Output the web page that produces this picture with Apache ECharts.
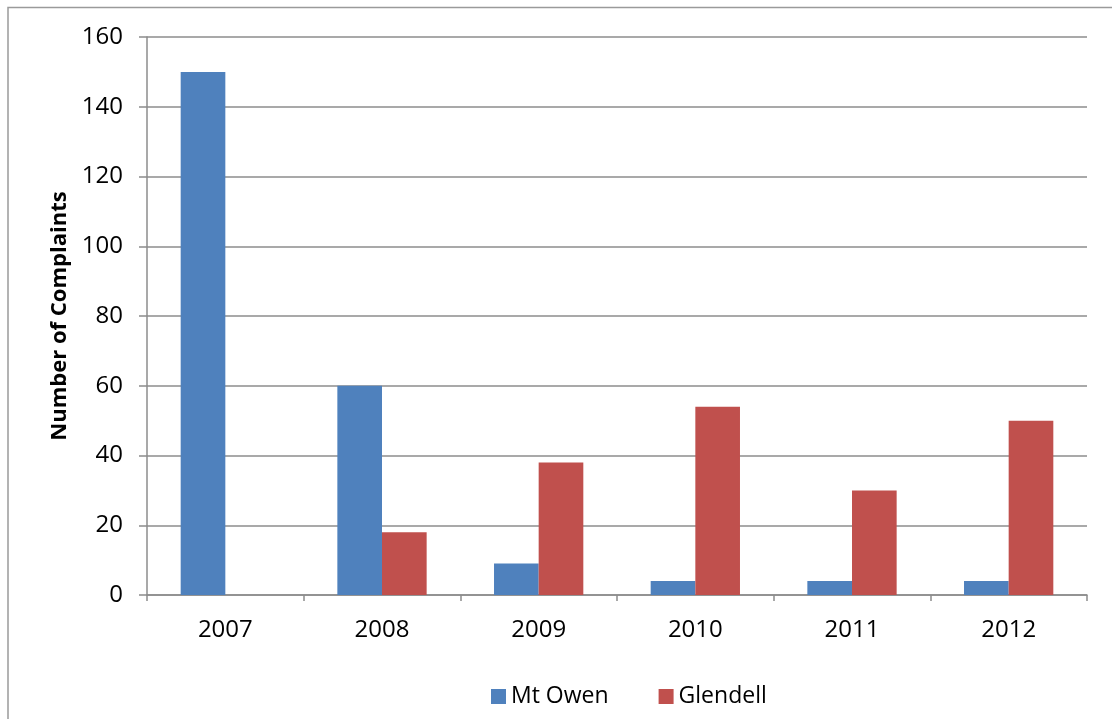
<!DOCTYPE html>
<html>
<head>
<meta charset="utf-8">
<script src="https://cdn.jsdelivr.net/npm/echarts@6/dist/echarts.min.js"></script>
<style>
  html, body { margin: 0; padding: 0; background: #fff; }
  #chart { width: 1112px; height: 719px; }
</style>
</head>
<body>
<div id="chart"></div>
<script>
// Data
const years = ['2007', '2008', '2009', '2010', '2011', '2012'];
const mtOwen = [150, 60, 9, 4, 4, 4];
const glendell = [0, 18, 38, 54, 30, 50];
const seriesNames = ['Mt Owen', 'Glendell'];

const font = '"Open Sans", "Noto Sans", sans-serif';
const gridGray = '#8c8c8c';

const myChart = echarts.init(document.getElementById('chart'));

const option = {
    backgroundColor: '#fff',
    animation: false,
    graphic: [{
        type: 'rect',
        shape: { x: 8, y: 7.5, width: 1300, height: 900 },
        style: { fill: 'none', stroke: '#9a9a9a', lineWidth: 1.5 },
        silent: true
    }],
    grid: { left: 147, right: 25, top: 37, bottom: 124 },
    legend: {
        data: seriesNames,
        top: 680,
        left: 486,
        itemWidth: 15,
        itemHeight: 15,
        itemGap: 50,
        icon: 'rect',
        textStyle: { fontFamily: font, fontSize: 23, color: '#000' }
    },
    xAxis: {
        type: 'category',
        data: years,
        axisLine: { lineStyle: { color: gridGray, width: 1.5 } },
        axisTick: { show: true, length: 6, lineStyle: { color: gridGray, width: 1.5 } },
        axisLabel: { fontFamily: font, fontSize: 24, color: '#000', margin: 23 },
        splitLine: { show: false }
    },
    yAxis: {
        type: 'value',
        min: 0,
        max: 160,
        interval: 20,
        name: 'Number of Complaints',
        nameLocation: 'middle',
        nameGap: 75,
        nameTextStyle: { fontFamily: font, fontSize: 22, fontWeight: 'bold', color: '#000' },
        axisLine: { show: true, lineStyle: { color: gridGray, width: 1.5 } },
        axisTick: { show: true, length: 8, lineStyle: { color: gridGray, width: 1.5 } },
        axisLabel: { fontFamily: font, fontSize: 24, color: '#000', margin: 24 },
        splitLine: { show: true, lineStyle: { color: gridGray, width: 1.5 } }
    },
    series: [
        {
            name: seriesNames[0],
            type: 'bar',
            data: mtOwen,
            barGap: '0%',
            barCategoryGap: '43%',
            itemStyle: { color: '#4f81bd' }
        },
        {
            name: seriesNames[1],
            type: 'bar',
            data: glendell,
            itemStyle: { color: '#c0504d' }
        }
    ]
};

myChart.setOption(option, true);
window.onresize = function() {
    myChart.resize();
};
</script>
</body>
</html>
